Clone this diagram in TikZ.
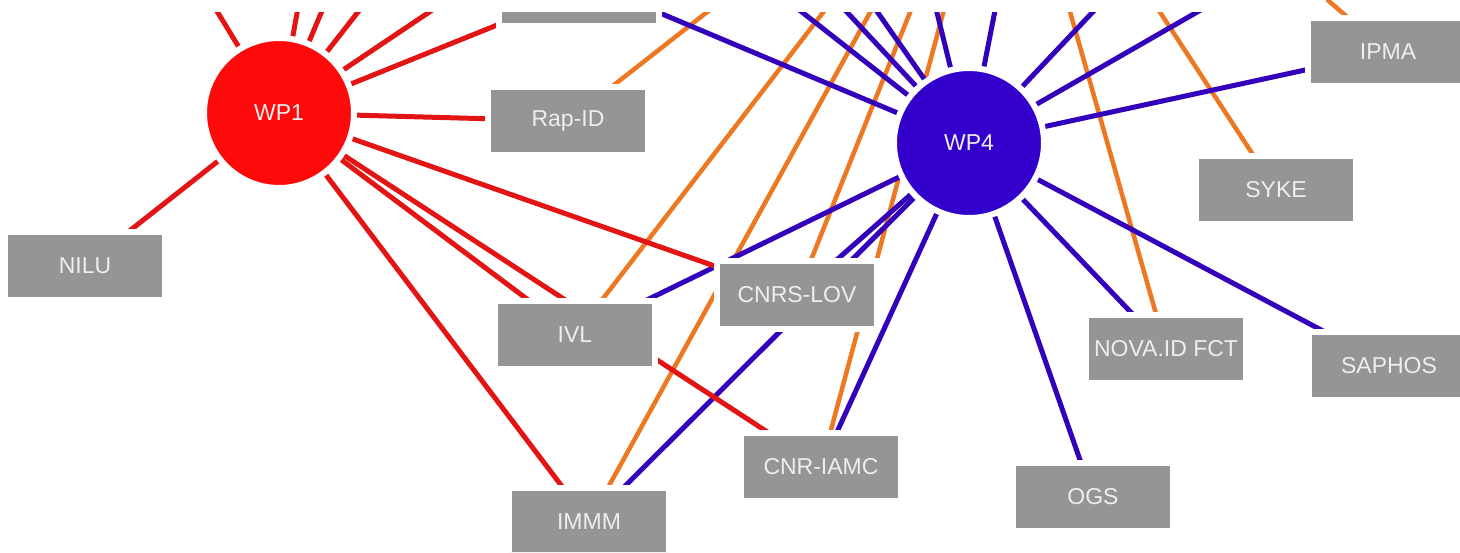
\documentclass[tikz,border=0pt]{standalone}
\usepackage{fontspec}
\setmainfont{Liberation Sans}
\usetikzlibrary{calc}
\definecolor{boxgray}{HTML}{959595}
\definecolor{txt}{HTML}{EEEEEE}
\definecolor{wpred}{HTML}{FF0A0A}
\definecolor{lred}{HTML}{E31414}
\definecolor{wpblue}{HTML}{3300CC}
\definecolor{lblue}{HTML}{3300BB}
\definecolor{lorange}{HTML}{EE7722}
\pgfdeclarelayer{edges}
\pgfsetlayers{edges,main}
\begin{document}
\begin{tikzpicture}[x=1pt,y=-1pt,
  org/.style={rectangle, fill=boxgray, draw=white, line width=6pt,
    minimum width=160pt, minimum height=68pt, inner sep=0pt, text=txt,
    font=\fontsize{23}{26}\selectfont},
  wp/.style={circle, draw=white, line width=6pt, minimum size=150pt,
    inner sep=0pt, text=txt, font=\fontsize{23}{26}\selectfont},
  redl/.style={draw=lred, line width=5pt},
  bluel/.style={draw=lblue, line width=5pt},
  orangel/.style={draw=lorange, line width=4.5pt},
]
\useasboundingbox (0,0) rectangle (1460,552);
\begin{scope}
\clip (0,12) -- (1326,12) -- (1326,0) -- (1460,0) -- (1460,552) -- (0,552) -- cycle;
% nodes
\node[org] (topbox) at (579,-8) {};
\node[org] (rapid) at (568,121) {Rap-ID};
\node[org] (nilu) at (85,266) {NILU};
\node[org] (ipma) at (1388,52) {IPMA};
\node[org] (syke) at (1276,190) {SYKE};
\node[org] (cnrslov) at (797,295) {CNRS-LOV};
\node[org] (ivl) at (575,335) {IVL};
\node[org] (nova) at (1166,349) {NOVA.ID FCT};
\node[org] (saphos) at (1389,366) {SAPHOS};
\node[org] (cnriamc) at (821,467) {CNR-IAMC};
\node[org] (ogs) at (1093,497) {OGS};
\node[org] (immm) at (589,522) {IMMM};
\node[wp, fill=wpred] (wp1) at (279,113) {WP1};
\node[wp, fill=wpblue] (wp4) at (969,143) {WP4};
\end{scope}
% off-picture ends
\coordinate (r1) at (198,-20);
\coordinate (r2) at (303,-20);
\coordinate (r3) at (335,-20);
\coordinate (r4) at (383,-20);
\coordinate (r5) at (477,-20);
\coordinate (b2) at (761,-20);
\coordinate (b3) at (817,-20);
\coordinate (b4) at (855,-20);
\coordinate (b5) at (929,-20);
\coordinate (b6) at (1001,-20);
\coordinate (b7) at (1123,-20);
\coordinate (b8) at (1253,-20);
\coordinate (o1) at (748,-20);
\coordinate (o2) at (848,-20);
\coordinate (o3) at (888,-20);
\coordinate (o4) at (923,-20);
\coordinate (o5) at (952,-20);
\coordinate (o6) at (1061,-20);
\coordinate (o7) at (1139,-20);
\coordinate (o8) at (1309,-16);
\begin{pgfonlayer}{edges}
\begin{scope}
\clip (0,12) -- (1326,12) -- (1326,0) -- (1460,0) -- (1460,552) -- (0,552) -- cycle;
% orange
\draw[orangel] (rapid.center) -- (o1);
\draw[orangel] (ivl.center) -- (o2);
\draw[orangel] (immm.center) -- (o3);
\draw[orangel] (cnrslov.center) -- (o4);
\draw[orangel] (cnriamc.center) -- (o5);
\draw[orangel] (nova.center) -- (o6);
\draw[orangel] (syke.center) -- (o7);
\draw[orangel] (ipma.center) -- (o8);
% blue
\draw[bluel] ($(topbox.center)+(0,-13)$) -- (wp4.center);
\foreach \c in {b2,b3,b4,b5,b6,b7,b8} \draw[bluel] (wp4.center) -- (\c);
\foreach \n in {ipma,saphos,nova,ogs,cnriamc,cnrslov,immm,ivl} \draw[bluel] (wp4.center) -- (\n.center);
% red
\foreach \c in {r1,r2,r3,r4,r5} \draw[redl] (wp1.center) -- (\c);
\foreach \n in {topbox,rapid,cnrslov,cnriamc,ivl,immm,nilu} \draw[redl] (wp1.center) -- (\n.center);
\end{scope}
\end{pgfonlayer}
\end{tikzpicture}
\end{document}
